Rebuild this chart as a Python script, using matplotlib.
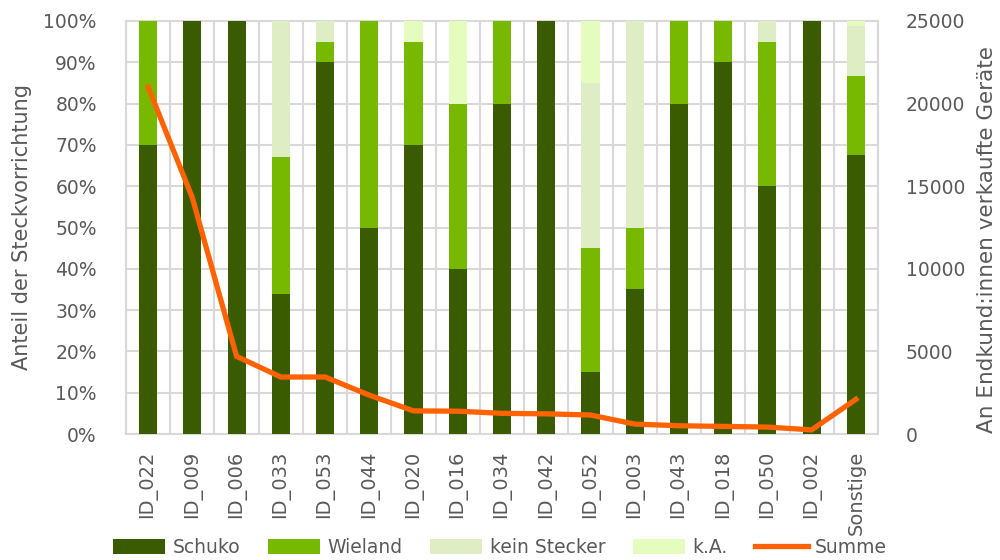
import matplotlib
matplotlib.use("Agg")
import matplotlib.pyplot as plt
import numpy as np
from matplotlib.ticker import FuncFormatter, FixedLocator

categories = ["ID_022", "ID_009", "ID_006", "ID_033", "ID_053", "ID_044", "ID_020", "ID_016",
              "ID_034", "ID_042", "ID_052", "ID_003", "ID_043", "ID_018", "ID_050", "ID_002", "Sonstige"]
schuko = [70, 100, 100, 34, 90, 50, 70, 40, 80, 100, 15, 35, 80, 90, 60, 100, 67.5]
wieland = [30, 0, 0, 33, 5, 50, 25, 40, 20, 0, 30, 15, 20, 10, 35, 0, 19.3]
kein_stecker = [0, 0, 0, 33, 5, 0, 0, 0, 0, 0, 40, 50, 0, 0, 5, 0, 12]
ka = [0, 0, 0, 0, 0, 0, 5, 20, 0, 0, 15, 0, 0, 0, 0, 0, 1.2]
summe = [21000, 14300, 4700, 3450, 3450, 2350, 1400, 1380, 1250, 1220, 1150, 600, 500, 460, 420, 250, 2100]

c_schuko = "#3B5B00"
c_wieland = "#77B900"
c_kein = "#DEEDC4"
c_ka = "#E4FDBF"
c_line = "#FF6200"
grid_c = "#D9D9D9"
txt_c = "#595959"

plt.rcParams['font.family'] = ['DejaVu Sans']
fig = plt.figure(figsize=(10, 5.6), dpi=100)
ax = fig.add_axes([0.126, 0.225, 0.752, 0.7375])
x = np.arange(len(categories))
w = 0.41
s = np.array(schuko); wl = np.array(wieland); k = np.array(kein_stecker); a = np.array(ka)
ax.bar(x, s, w, color=c_schuko, label="Schuko", zorder=3)
ax.bar(x, wl, w, bottom=s, color=c_wieland, label="Wieland", zorder=3)
ax.bar(x, k, w, bottom=s + wl, color=c_kein, label="kein Stecker", zorder=3)
ax.bar(x, a, w, bottom=s + wl + k, color=c_ka, label="k.A.", zorder=3)

ax.set_xlim(-0.5, len(categories) - 0.5)
ax.set_ylim(0, 100)
ax.set_yticks(np.arange(0, 101, 10))
ax.yaxis.set_major_formatter(FuncFormatter(lambda v, p: f"{int(v)}%"))
ax.set_xticks(x)
ax.set_xticklabels(categories, rotation=90)
ax.xaxis.set_minor_locator(FixedLocator(np.arange(-0.5, len(categories), 1)))
ax.grid(axis='y', which='major', color=grid_c, lw=1.5, zorder=0)
ax.grid(axis='x', which='minor', color=grid_c, lw=1.5, zorder=0)
ax.tick_params(axis='both', which='both', length=0, labelsize=13.5, labelcolor=txt_c)
ax.tick_params(axis='x', pad=12, labelsize=14)
ax.tick_params(axis='y', pad=21)
for sp in ax.spines.values():
    sp.set_color(grid_c); sp.set_linewidth(1.5)
ax.set_ylabel("Anteil der Steckvorrichtung", fontsize=15, color=txt_c, labelpad=8)

ax2 = ax.twinx()
ax2.plot(x, summe, color=c_line, lw=3.8, label="Summe", zorder=5, solid_joinstyle='miter')
ax2.set_ylim(0, 25000)
ax2.set_yticks(np.arange(0, 25001, 5000))
ax2.tick_params(axis='y', length=0, labelsize=13.5, labelcolor=txt_c, pad=20)
for sp in ax2.spines.values():
    sp.set_visible(False)
ax2.set_ylabel("An Endkund:innen verkaufte Geräte", fontsize=15.5, color=txt_c)
ax2.yaxis.set_label_coords(1.132, 0.47)

h1, l1 = ax.get_legend_handles_labels()
h2, l2 = ax2.get_legend_handles_labels()
fig.legend(h1 + h2, l1 + l2, loc='center', bbox_to_anchor=(0.5, 0.022), ncol=5, frameon=False,
           fontsize=13.5, handlelength=2.8, handleheight=0.9, handletextpad=0.4, columnspacing=1.45,
           labelcolor=txt_c)
fig.savefig("out.png", dpi=100)
